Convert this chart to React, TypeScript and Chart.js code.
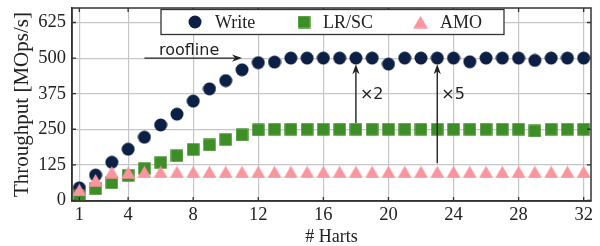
import React, { useEffect, useRef } from 'react';
import { Chart, registerables } from 'chart.js';

Chart.register(...registerables);

// ---------- data ----------
const harts = [1, 2, 3, 4, 5, 6, 7, 8, 9, 10, 11, 12, 13, 14, 15, 16, 17, 18, 19, 20, 21, 22, 23, 24, 25, 26, 27, 28, 29, 30, 31, 32];
const writeValues = [44, 89, 134, 180, 222, 265, 303, 349, 392, 421, 459, 484, 486, 500, 500, 500, 500, 500, 500, 479, 500, 500, 500, 500, 487, 500, 500, 500, 492, 500, 500, 500];
const lrscValues = [16, 41, 62, 88, 112, 133, 157, 179, 195, 214, 230, 248, 250, 250, 250, 250, 250, 250, 250, 250, 250, 250, 250, 250, 250, 250, 250, 250, 244, 250, 250, 250];
const amoValues = [37, 71, 99, 98, 100, 100, 100, 100, 100, 100, 100, 100, 100, 100, 100, 100, 100, 100, 100, 100, 100, 100, 100, 100, 100, 100, 100, 100, 100, 100, 100, 100];

const seriesLabels = ['Write', 'LR/SC', 'AMO'];
const xTicks = [1, 4, 8, 12, 16, 20, 24, 28, 32];
const yTicks = [0, 125, 250, 375, 500, 625];
const xTitle = '# Harts';
const yTitle = 'Throughput [MOps/s]';

// annotations (data coordinates)
const rooflineText = 'roofline';
const rooflineFrom = [5, 500];
const rooflineTo = [11, 500];
const rooflineTextX = 7.75;
const gainTexts = ['×2', '×5'];
const gainX = [18, 23];
const gainFromY = [272, 131];
const gainToY = [478, 478];
const gainTextY = 370;

// ---------- styles ----------
const COLORS = ['#0c1f44', '#3e8e27', '#f8959f'];
const SERIF = '"Liberation Serif", "Times New Roman", serif';
const SANS = '"DejaVu Sans", sans-serif';
const INK = '#222222';
const FRAME = '#333333';
const GRID = '#c6c6c6';

function makeMarker(kind: string, color: string): HTMLCanvasElement {
  const c = document.createElement('canvas');
  const ctx = c.getContext('2d')!;
  if (kind === 'circle') {
    c.width = 14; c.height = 14;
    ctx.fillStyle = color;
    ctx.beginPath();
    ctx.arc(7, 7, 6.5, 0, Math.PI * 2);
    ctx.fill();
  } else if (kind === 'square') {
    c.width = 13; c.height = 13;
    ctx.fillStyle = color;
    ctx.fillRect(0.3, 0.3, 12.4, 12.4);
  } else {
    c.width = 15; c.height = 13;
    ctx.fillStyle = color;
    ctx.beginPath();
    ctx.moveTo(7.5, 0.3);
    ctx.lineTo(14.7, 12.7);
    ctx.lineTo(0.3, 12.7);
    ctx.closePath();
    ctx.fill();
  }
  return c;
}

function arrow(ctx: CanvasRenderingContext2D, x0: number, y0: number, x1: number, y1: number) {
  const dx = x1 - x0, dy = y1 - y0;
  const len = Math.hypot(dx, dy);
  const ux = dx / len, uy = dy / len;
  const px = -uy, py = ux;
  const hl = 10, hw = 3.6;
  ctx.beginPath();
  ctx.moveTo(x0, y0);
  ctx.lineTo(x1 - ux * 6, y1 - uy * 6);
  ctx.stroke();
  ctx.beginPath();
  ctx.moveTo(x1, y1);
  ctx.lineTo(x1 - ux * hl + px * hw, y1 - uy * hl + py * hw);
  ctx.lineTo(x1 - ux * 7, y1 - uy * 7);
  ctx.lineTo(x1 - ux * hl - px * hw, y1 - uy * hl - py * hw);
  ctx.closePath();
  ctx.fill();
}

export default function App() {
  const ref = useRef<HTMLCanvasElement | null>(null);

  useEffect(() => {
    const canvas = ref.current;
    if (!canvas) return;
    const markers = [
      makeMarker('circle', COLORS[0]),
      makeMarker('square', COLORS[1]),
      makeMarker('triangle', COLORS[2]),
    ];
    const values = [writeValues, lrscValues, amoValues];

    const decor = {
      id: 'decor',
      afterDatasetsDraw(chart: any) {
        const { ctx, chartArea: a, scales } = chart;
        const xs = scales.x, ys = scales.y;
        ctx.save();
        // frame
        ctx.strokeStyle = FRAME;
        ctx.lineWidth = 1.5;
        ctx.strokeRect(a.left, a.top, a.right - a.left, a.bottom - a.top);
        // inward ticks
        ctx.lineWidth = 1.3;
        ctx.beginPath();
        xTicks.forEach((v) => {
          const p = xs.getPixelForValue(v);
          ctx.moveTo(p, a.bottom); ctx.lineTo(p, a.bottom - 4);
          ctx.moveTo(p, a.top); ctx.lineTo(p, a.top + 4);
        });
        yTicks.forEach((v) => {
          const p = ys.getPixelForValue(v);
          ctx.moveTo(a.left, p); ctx.lineTo(a.left + 4, p);
          ctx.moveTo(a.right, p); ctx.lineTo(a.right - 4, p);
        });
        ctx.stroke();

        // annotations
        ctx.strokeStyle = INK;
        ctx.fillStyle = INK;
        ctx.lineWidth = 1.4;
        arrow(ctx,
          xs.getPixelForValue(rooflineFrom[0]), ys.getPixelForValue(rooflineFrom[1]),
          xs.getPixelForValue(rooflineTo[0]), ys.getPixelForValue(rooflineTo[1]));
        ctx.font = `16px ${SANS}`;
        ctx.textAlign = 'center';
        ctx.textBaseline = 'alphabetic';
        ctx.fillText(rooflineText, xs.getPixelForValue(rooflineTextX), ys.getPixelForValue(rooflineFrom[1]) - 3);
        gainTexts.forEach((t, i) => {
          const gx = xs.getPixelForValue(gainX[i]);
          arrow(ctx, gx, ys.getPixelForValue(gainFromY[i]), gx, ys.getPixelForValue(gainToY[i]));
          ctx.textAlign = 'left';
          ctx.textBaseline = 'middle';
          ctx.fillText(t, gx + 4, ys.getPixelForValue(gainTextY));
        });

        // legend box
        const bx = a.left + 89, by = a.top + 1.5, bw = 343, bh = 25;
        ctx.fillStyle = '#ffffff';
        ctx.fillRect(bx, by, bw, bh);
        ctx.strokeStyle = FRAME;
        ctx.lineWidth = 1.3;
        ctx.strokeRect(bx, by, bw, bh);
        const cy = by + bh / 2;
        const markerX = [bx + 34, bx + 143, bx + 259.5];
        const textX = [bx + 54, bx + 162, bx + 279];
        ctx.font = `18px ${SERIF}`;
        ctx.fillStyle = INK;
        ctx.textAlign = 'left';
        ctx.textBaseline = 'alphabetic';
        seriesLabels.forEach((lab, i) => {
          const m = markers[i];
          ctx.drawImage(m, markerX[i] - m.width / 2, cy - m.height / 2);
          ctx.fillStyle = INK;
          ctx.fillText(lab, textX[i], cy + 6);
        });
        ctx.restore();
      },
    };

    const chart = new Chart(canvas, {
      type: 'scatter',
      data: {
        datasets: seriesLabels.map((lab, i) => ({
          label: lab,
          data: harts.map((h, j) => ({ x: h, y: values[i][j] })),
          pointStyle: markers[i],
          pointRadius: 7,
          pointHoverRadius: 7,
          backgroundColor: COLORS[i],
          borderColor: COLORS[i],
          showLine: false,
          clip: false,
          order: 3 - i,
        })),
      },
      options: {
        animation: false,
        responsive: false,
        devicePixelRatio: 1,
        events: [],
        layout: { padding: { left: 0, right: 9, top: 6, bottom: 0 } },
        plugins: {
          legend: { display: false },
          tooltip: { enabled: false },
        },
        scales: {
          x: {
            type: 'linear',
            min: 0.55,
            max: 32.45,
            afterBuildTicks: (s: any) => { s.ticks = xTicks.map((v) => ({ value: v })); },
            afterFit: (s: any) => { s.height = 45; s.paddingLeft = 0; s.paddingRight = 0; },
            grid: { color: GRID, lineWidth: 1.2, drawTicks: false },
            border: { display: true, color: FRAME, width: 1.5 },
            ticks: { padding: 3, color: INK, font: { family: SERIF, size: 18.5 }, maxRotation: 0, autoSkip: false },
            title: { display: true, text: xTitle, color: INK, font: { family: SERIF, size: 18 }, padding: { top: 0, bottom: -2 } },
          },
          y: {
            type: 'linear',
            min: -2,
            max: 676,
            afterBuildTicks: (s: any) => { s.ticks = yTicks.map((v) => ({ value: v })); },
            afterFit: (s: any) => { s.width = 72; s.paddingTop = 0; s.paddingBottom = 0; },
            grid: { color: GRID, lineWidth: 1.2, drawTicks: false },
            border: { display: true, color: FRAME, width: 1.5 },
            ticks: { padding: 6, color: INK, font: { family: SERIF, size: 18.5 }, autoSkip: false },
            title: { display: true, text: yTitle, color: INK, font: { family: SERIF, size: 21 }, padding: { top: 10, bottom: 0 } },
          },
        },
      },
      plugins: [decor],
    } as any);

    return () => chart.destroy();
  }, []);

  return (
    <div style={{ position: 'fixed', left: 0, top: 0, width: 600, height: 246, background: '#fff' }}>
      <canvas ref={ref} width={600} height={246} style={{ display: 'block', width: 600, height: 246 }} />
    </div>
  );
}
